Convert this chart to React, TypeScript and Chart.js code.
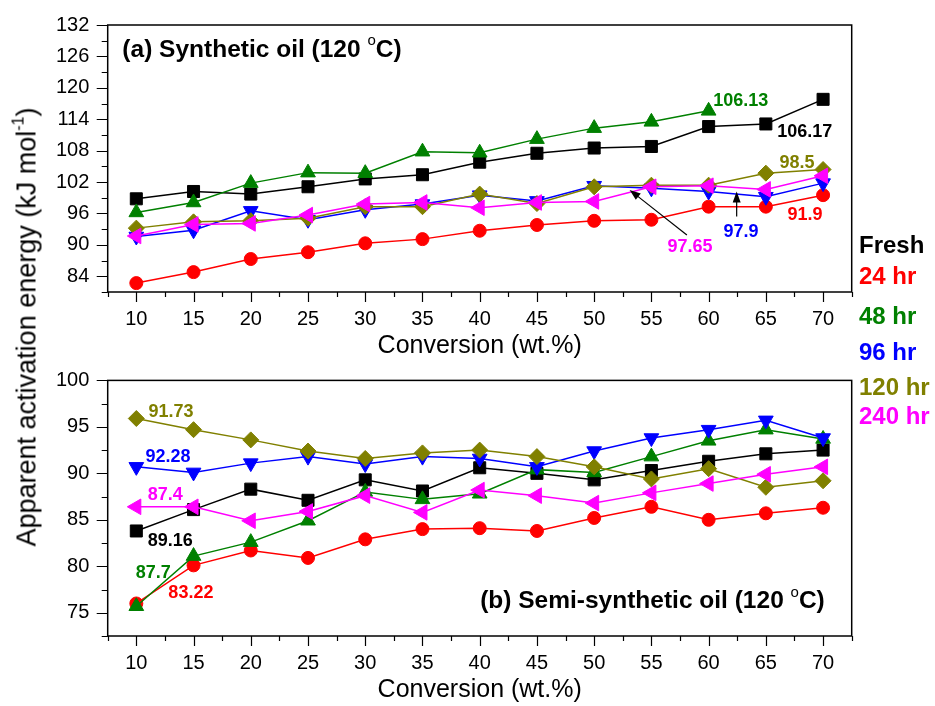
import React, { useEffect, useRef } from 'react';
import { Chart, registerables } from 'chart.js';
Chart.register(...registerables);

const FONT = 'Arial, "Liberation Sans", Helvetica, sans-serif';

const conversion = [10, 15, 20, 25, 30, 35, 40, 45, 50, 55, 60, 65, 70];
const seriesNames = ['Fresh', '24 hr', '48 hr', '96 hr', '120 hr', '240 hr'];
const seriesColors = ['#000000', '#ff0000', '#008000', '#0000ff', '#808000', '#ff00ff'];

// (a) Synthetic oil
const synFresh = [98.8, 100.2, 99.7, 101.1, 102.6, 103.4, 105.8, 107.5, 108.5, 108.8, 112.6, 113.1, 117.8];
const syn24 = [82.7, 84.8, 87.3, 88.6, 90.3, 91.1, 92.7, 93.8, 94.6, 94.8, 97.3, 97.3, 99.5];
const syn48 = [96.2, 98.1, 101.8, 103.8, 103.7, 107.8, 107.6, 110.2, 112.3, 113.5, 115.6, null, null];
const syn96 = [91.6, 92.8, 96.5, 94.8, 96.7, 97.8, 99.5, 98.4, 101.3, 100.8, 100.2, 99.2, 101.8];
const syn120 = [93.2, 94.4, 94.6, 95.1, 97.3, 97.3, 99.7, 97.9, 101.1, 101.4, 101.4, 103.7, 104.4];
const syn240 = [91.7, 93.9, 94.1, 95.7, 97.8, 98.1, 97.1, 98.1, 98.3, 101.1, 101.3, 100.6, 103.2];

// (b) Semi-synthetic oil
const semiFresh = [83.8, 86.1, 88.3, 87.1, 89.3, 88.1, 90.6, 90.0, 89.3, 90.3, 91.3, 92.1, 92.5];
const semi24 = [76.0, 80.1, 81.7, 80.9, 82.9, 84.0, 84.1, 83.8, 85.2, 86.4, 85.0, 85.7, 86.3];
const semi48 = [75.7, 81.1, 82.6, 84.9, 88.0, 87.2, 87.8, 90.4, 90.1, 91.8, 93.5, 94.7, 93.7];
const semi96 = [90.7, 90.1, 91.1, 91.8, 91.0, 91.8, 91.6, 90.7, 92.4, 93.8, 94.7, 95.7, 93.8];
const semi120 = [95.9, 94.7, 93.6, 92.4, 91.6, 92.2, 92.5, 91.8, 90.7, 89.4, 90.5, 88.5, 89.2];
const semi240 = [86.4, 86.4, 84.9, 85.9, 87.6, 85.8, 88.2, 87.6, 86.8, 87.9, 88.9, 89.9, 90.7];

// value labels written on the plots
const synLabels = [
  { text: '106.13', x: 60.4, y: 117.5, color: '#008000' },
  { text: '106.17', x: 66.0, y: 111.6, color: '#000000' },
  { text: '98.5', x: 66.2, y: 105.7, color: '#808000' },
  { text: '91.9', x: 66.9, y: 95.7, color: '#ff0000' },
  { text: '97.9', x: 61.3, y: 92.5, color: '#0000ff' },
  { text: '97.65', x: 56.4, y: 89.6, color: '#ff00ff' },
];
const synArrows = [
  { x1: 62.45, y1: 95.4, x2: 62.45, y2: 100.2 },
  { x1: 58.1, y1: 91.9, x2: 53.1, y2: 100.5 },
];
const semiLabels = [
  { text: '91.73', x: 11.07, y: 96.56, color: '#808000' },
  { text: '92.28', x: 10.81, y: 91.78, color: '#0000ff' },
  { text: '87.4', x: 10.99, y: 87.66, color: '#ff00ff' },
  { text: '89.16', x: 10.99, y: 82.74, color: '#000000' },
  { text: '87.7', x: 9.94, y: 79.24, color: '#008000' },
  { text: '83.22', x: 12.8, y: 77.14, color: '#ff0000' },
];

const pointStyles = ['rect', 'circle', 'triangle', 'triangle', 'rectRot', 'triangle'];
const pointRotations = [0, 0, 0, 180, 0, -90];
const pointRadii = [8.5, 6.5, 8.5, 8.5, 8, 9];

function buildDatasets(series: (number | null)[][]) {
  return series.map((vals, i) => ({
    label: seriesNames[i],
    data: conversion
      .map((x, k) => ({ x, y: vals[k] }))
      .filter((p) => p.y !== null && p.y !== undefined),
    borderColor: seriesColors[i],
    backgroundColor: seriesColors[i],
    pointBackgroundColor: seriesColors[i],
    pointBorderColor: seriesColors[i],
    pointBorderWidth: 1,
    borderWidth: 1.5,
    pointStyle: pointStyles[i],
    pointRotation: pointRotations[i],
    pointRadius: pointRadii[i],
    order: series.length - 1 - i,
    tension: 0,
  }));
}

function drawArrow(ctx: CanvasRenderingContext2D, x1: number, y1: number, x2: number, y2: number) {
  const ang = Math.atan2(y2 - y1, x2 - x1);
  const hl = 11;
  const hw = 4;
  ctx.save();
  ctx.strokeStyle = '#000';
  ctx.fillStyle = '#000';
  ctx.lineWidth = 1.2;
  ctx.beginPath();
  ctx.moveTo(x1, y1);
  ctx.lineTo(x2 - Math.cos(ang) * hl * 0.8, y2 - Math.sin(ang) * hl * 0.8);
  ctx.stroke();
  ctx.beginPath();
  ctx.moveTo(x2, y2);
  ctx.lineTo(x2 - Math.cos(ang) * hl - Math.sin(ang) * hw, y2 - Math.sin(ang) * hl + Math.cos(ang) * hw);
  ctx.lineTo(x2 - Math.cos(ang) * hl + Math.sin(ang) * hw, y2 - Math.sin(ang) * hl - Math.cos(ang) * hw);
  ctx.closePath();
  ctx.fill();
  ctx.restore();
}

function makeDecor(
  titlePre: string,
  titleX: number,
  titleY: number,
  labels: { text: string; x: number; y: number; color: string }[],
  arrows: { x1: number; y1: number; x2: number; y2: number }[],
  yMajor: (v: number) => boolean
) {
  return {
    id: 'decor',
    afterDatasetsDraw(chart: any) {
      const ctx: CanvasRenderingContext2D = chart.ctx;
      const xs = chart.scales.x;
      const ys = chart.scales.y;
      ctx.save();
      ctx.textBaseline = 'middle';
      ctx.textAlign = 'left';
      ctx.font = `bold 18px ${FONT}`;
      labels.forEach((l) => {
        ctx.fillStyle = l.color;
        ctx.fillText(l.text, xs.getPixelForValue(l.x), ys.getPixelForValue(l.y));
      });
      arrows.forEach((a) =>
        drawArrow(ctx, xs.getPixelForValue(a.x1), ys.getPixelForValue(a.y1), xs.getPixelForValue(a.x2), ys.getPixelForValue(a.y2))
      );
      // panel title
      const tx = xs.getPixelForValue(titleX);
      const ty = ys.getPixelForValue(titleY);
      ctx.fillStyle = '#000';
      ctx.font = `bold 24.5px ${FONT}`;
      ctx.fillText(titlePre, tx, ty);
      let w = ctx.measureText(titlePre).width;
      ctx.font = `15px ${FONT}`;
      ctx.fillText('o', tx + w, ty - 9);
      w += ctx.measureText('o').width;
      ctx.font = `bold 24.5px ${FONT}`;
      ctx.fillText('C)', tx + w, ty);
      ctx.restore();
    },
    afterDraw(chart: any) {
      const ctx: CanvasRenderingContext2D = chart.ctx;
      const a = chart.chartArea;
      const xs = chart.scales.x;
      const ys = chart.scales.y;
      ctx.save();
      ctx.strokeStyle = '#000';
      ctx.lineWidth = 1.5;
      ctx.strokeRect(a.left, a.top, a.right - a.left, a.bottom - a.top);
      ctx.lineWidth = 1.2;
      ctx.beginPath();
      xs.ticks.forEach((t: any) => {
        const p = Math.round(xs.getPixelForValue(t.value)) + 0.5;
        const len = t.value % 5 === 0 ? 10 : 5;
        ctx.moveTo(p, a.bottom);
        ctx.lineTo(p, a.bottom + len);
      });
      ys.ticks.forEach((t: any) => {
        const p = Math.round(ys.getPixelForValue(t.value)) + 0.5;
        const len = yMajor(t.value) ? 11 : 6;
        ctx.moveTo(a.left, p);
        ctx.lineTo(a.left - len, p);
      });
      ctx.stroke();
      ctx.restore();
    },
  };
}

type PanelProps = {
  height: number;
  top: number;
  padTop: number;
  xScaleH: number;
  yMin: number;
  yMax: number;
  yStep: number;
  yMajor: (v: number) => boolean;
  series: (number | null)[][];
  titlePre: string;
  titleX: number;
  titleY: number;
  labels: { text: string; x: number; y: number; color: string }[];
  arrows: { x1: number; y1: number; x2: number; y2: number }[];
  titlePadBottom: number;
};

function Panel(p: PanelProps) {
  const ref = useRef<HTMLCanvasElement | null>(null);
  useEffect(() => {
    if (!ref.current) return;
    const chart = new Chart(ref.current, {
      type: 'line',
      data: { datasets: buildDatasets(p.series) as any },
      options: {
        responsive: false,
        animation: false,
        devicePixelRatio: 1,
        layout: { padding: { top: p.padTop, right: 83.3, left: 0, bottom: 0 } },
        plugins: { legend: { display: false }, tooltip: { enabled: false } },
        scales: {
          x: {
            type: 'linear',
            min: 7.5,
            max: 72.5,
            afterFit: (s: any) => {
              s.height = p.xScaleH;
            },
            ticks: {
              stepSize: 2.5,
              autoSkip: false,
              maxRotation: 0,
              padding: 5,
              color: '#000',
              font: { family: FONT, size: 20 },
              callback: (v: any) => (Number(v) % 5 === 0 ? String(v) : ''),
            },
            grid: { drawOnChartArea: false, drawTicks: true, tickLength: 10, color: 'rgba(0,0,0,0)' },
            border: { display: false },
            title: {
              display: true,
              text: 'Conversion (wt.%)',
              color: '#000',
              font: { family: FONT, size: 25, lineHeight: 1 },
              padding: { top: 0, bottom: p.titlePadBottom },
            },
          },
          y: {
            type: 'linear',
            min: p.yMin,
            max: p.yMax,
            afterFit: (s: any) => {
              s.width = 107.7;
            },
            ticks: {
              stepSize: p.yStep,
              autoSkip: false,
              padding: 8.4,
              color: '#000',
              font: { family: FONT, size: 20 },
              callback: (v: any) => (p.yMajor(Number(v)) ? String(v) : ''),
            },
            grid: { drawOnChartArea: false, drawTicks: true, tickLength: 10, color: 'rgba(0,0,0,0)' },
            border: { display: false },
          },
        },
      },
      plugins: [makeDecor(p.titlePre, p.titleX, p.titleY, p.labels, p.arrows, p.yMajor)],
    } as any);
    return () => chart.destroy();
  }, []);
  return (
    <canvas
      ref={ref}
      width={935}
      height={p.height}
      style={{ position: 'absolute', left: 0, top: p.top, width: 935, height: p.height }}
    />
  );
}

const legendY = [245, 276, 316, 352, 387, 416];

export default function App() {
  return (
    <div
      style={{
        position: 'fixed',
        left: 0,
        top: 0,
        width: 935,
        height: 706,
        background: '#fff',
        overflow: 'hidden',
      }}
    >
      <Panel
        height={360}
        top={0}
        padTop={25}
        xScaleH={68}
        yMin={81}
        yMax={132}
        yStep={3}
        yMajor={(v) => (v - 84) % 6 === 0}
        series={[synFresh, syn24, syn48, syn96, syn120, syn240]}
        titlePre="(a) Synthetic oil (120 "
        titleX={8.78}
        titleY={127.2}
        labels={synLabels}
        arrows={synArrows}
        titlePadBottom={1.5}
      />
      <Panel
        height={346}
        top={360}
        padTop={9.3}
        xScaleH={70}
        yMin={72.5}
        yMax={100}
        yStep={2.5}
        yMajor={(v) => v % 5 === 0}
        series={[semiFresh, semi24, semi48, semi96, semi120, semi240]}
        titlePre="(b) Semi-synthetic oil (120 "
        titleX={40.04}
        titleY={76.22}
        labels={semiLabels}
        arrows={[]}
        titlePadBottom={3.5}
      />
      <div
        style={{
          position: 'absolute',
          left: 27,
          top: 327,
          transform: 'translate(-50%, -50%) rotate(-90deg)',
          whiteSpace: 'nowrap',
          fontFamily: FONT,
          fontSize: 27,
          lineHeight: 1,
          color: '#000',
        }}
      >
        Apparent activation energy (kJ mol
        <span style={{ fontSize: 16, position: 'relative', top: -12 }}>-1</span>)
      </div>
      {seriesNames.map((n, i) => (
        <div
          key={n}
          style={{
            position: 'absolute',
            left: 859,
            top: legendY[i],
            transform: 'translateY(-50%)',
            fontFamily: FONT,
            fontWeight: 'bold',
            fontSize: 24,
            lineHeight: 1,
            color: seriesColors[i],
            whiteSpace: 'nowrap',
          }}
        >
          {n}
        </div>
      ))}
    </div>
  );
}
